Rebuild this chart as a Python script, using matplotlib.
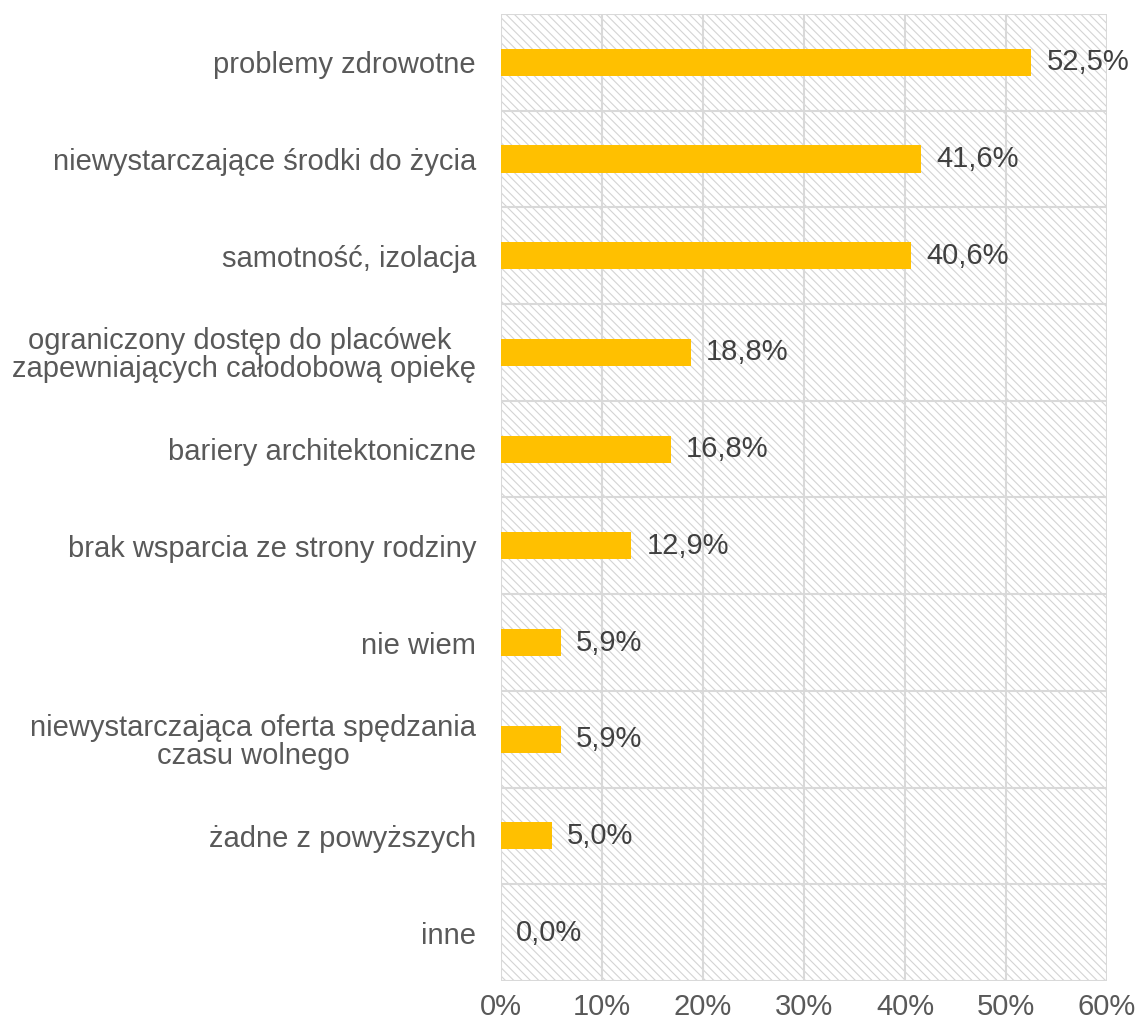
import matplotlib.pyplot as plt
from matplotlib.patches import Rectangle

plt.rcParams['font.family'] = ['Liberation Sans', 'DejaVu Sans']
plt.rcParams['hatch.linewidth'] = 0.8

# Data
categories = [
    'problemy zdrowotne',
    'niewystarczające środki do życia',
    'samotność, izolacja',
    'ograniczony dostęp do placówek \nzapewniających całodobową opiekę',
    'bariery architektoniczne',
    'brak wsparcia ze strony rodziny',
    'nie wiem',
    'niewystarczająca oferta spędzania\nczasu wolnego',
    'żadne z powyższych',
    'inne',
]
values = [52.5, 41.6, 40.6, 18.8, 16.8, 12.9, 5.9, 5.9, 5.0, 0.0]
xticks = [0, 10, 20, 30, 40, 50, 60]

text_col = '#595959'
grid_col = '#d9d9d9'

fig = plt.figure(figsize=(11.4, 10.27), dpi=100)
ax = fig.add_axes([0.4395, 0.0448, 0.5316, 0.9416])

# hatched plot area background
bg = Rectangle((0, 0), 1, 1, transform=ax.transAxes, facecolor='white',
               edgecolor='#d4d4d4', hatch='\\\\\\\\', linewidth=0, zorder=0)
ax.add_patch(bg)

ypos = list(range(len(categories)))
ax.barh(ypos, values, height=0.28, color='#FFC000', zorder=3)

for y, v in zip(ypos, values):
    ax.text(v + 1.5, y, f'{v:.1f}%'.replace('.', ','), va='center', ha='left',
            fontsize=21, color='#404040', zorder=4)

ax.set_xlim(0, 60)
ax.set_ylim(len(categories) - 0.5, -0.5)

ax.set_xticks(xticks)
ax.set_xticklabels([f'{t}%' for t in xticks], fontsize=21, color=text_col)
ax.set_yticks(ypos)
ax.set_yticklabels(categories, fontsize=21, color=text_col,
                   multialignment='center', linespacing=1.0)
ax.tick_params(axis='both', length=0)
ax.tick_params(axis='y', pad=18)
ax.tick_params(axis='x', pad=9)

# grid
for x in xticks:
    ax.axvline(x, color=grid_col, lw=1.5, zorder=1)
for i in range(len(categories) + 1):
    ax.axhline(i - 0.5, color=grid_col, lw=1.5, zorder=1)

for s in ax.spines.values():
    s.set_visible(False)

fig.savefig('out.png', dpi=100)
